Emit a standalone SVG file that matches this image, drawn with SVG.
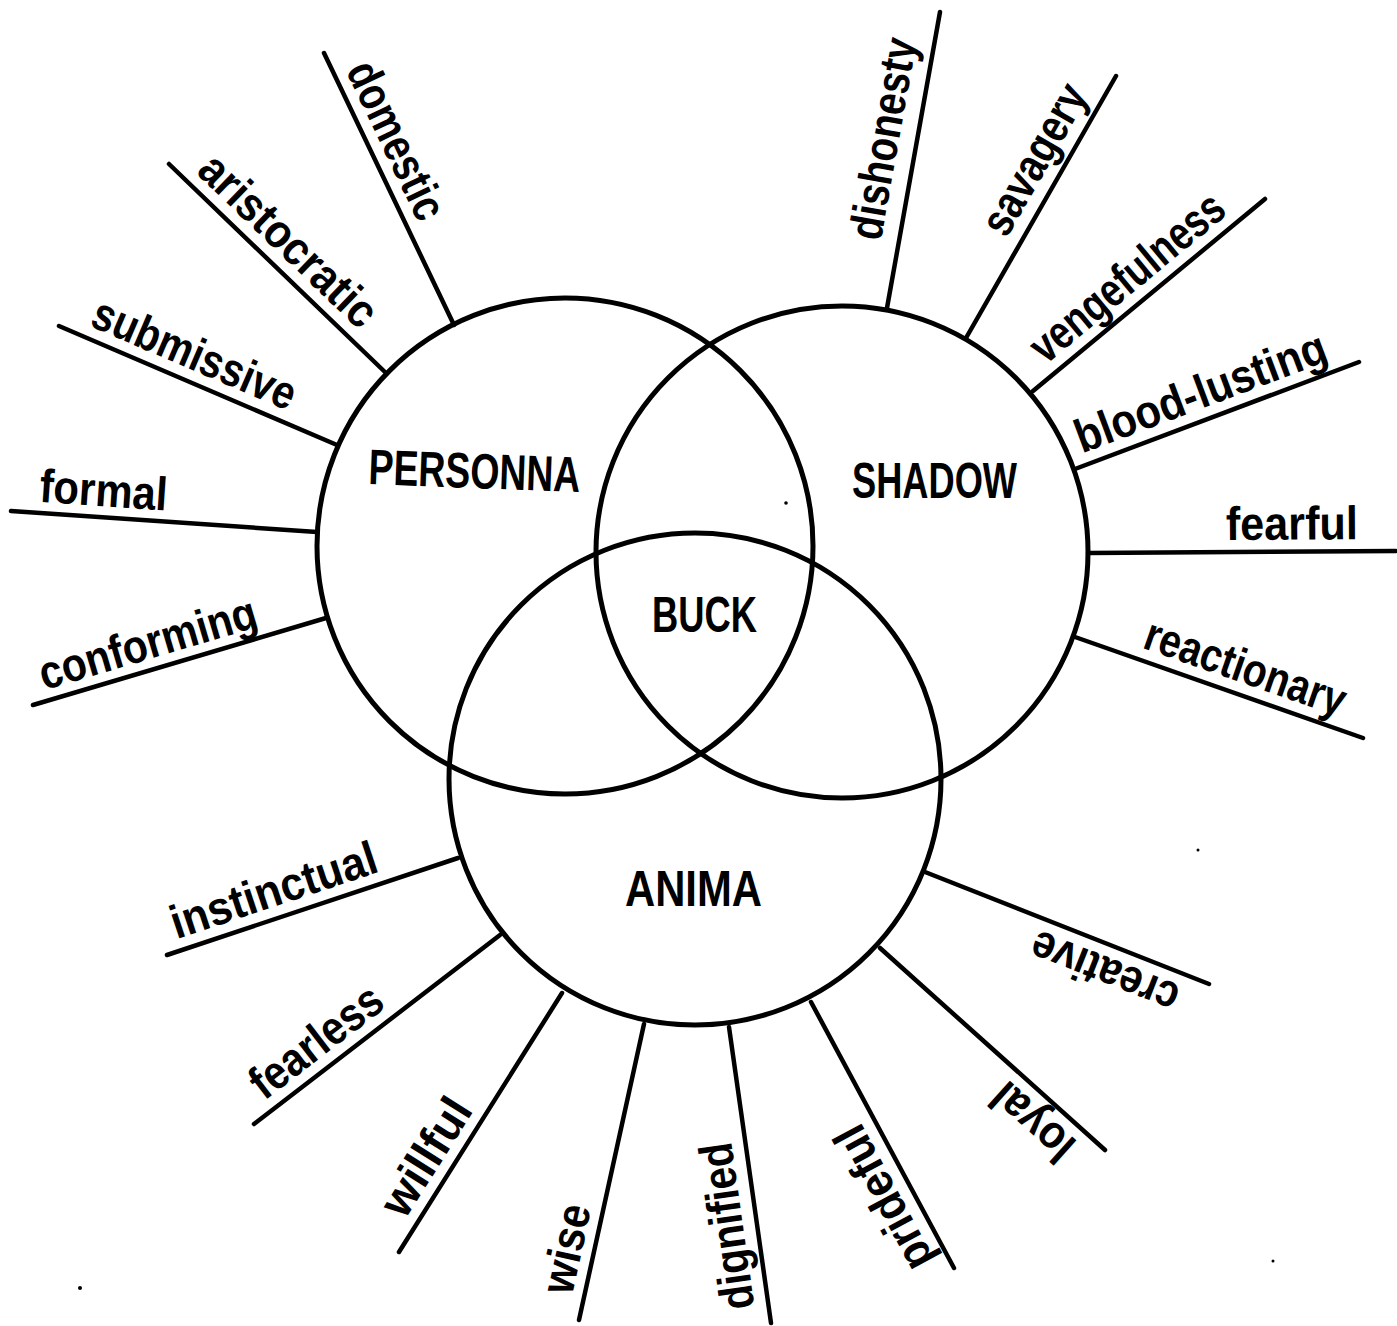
<svg xmlns="http://www.w3.org/2000/svg" width="1397" height="1326" viewBox="0 0 1397 1326">
<style>
.ring{fill:none;stroke:#000;stroke-width:5}
.spoke{stroke:#000;stroke-width:4.5;stroke-linecap:round;fill:none}
.lbl{font-family:"Liberation Sans",Arial,sans-serif;font-weight:bold;font-size:47px;fill:#000}
.ttl{font-family:"Liberation Sans",Arial,sans-serif;font-weight:bold;font-size:50px;fill:#000}
.speck{fill:#000}
</style>
<rect width="1397" height="1326" fill="#fff"/>
<g id="personna">
<circle class="ring" cx="565" cy="546" r="248"/>
<text class="ttl" transform="translate(368,484) rotate(2.2)" textLength="212" lengthAdjust="spacingAndGlyphs">PERSONNA</text>
</g>
<g id="shadow">
<circle class="ring" cx="842" cy="552" r="246"/>
<text class="ttl" x="852" y="498" textLength="165" lengthAdjust="spacingAndGlyphs">SHADOW</text>
</g>
<g id="anima">
<circle class="ring" cx="695" cy="779" r="246"/>
<text class="ttl" x="625" y="906" textLength="137" lengthAdjust="spacingAndGlyphs">ANIMA</text>
</g>
<g id="buck">
<text class="ttl" x="652" y="632" textLength="105" lengthAdjust="spacingAndGlyphs">BUCK</text>
</g>
<g id="connectors">
<line class="spoke" x1="324" y1="53" x2="454" y2="325"/>
<line class="spoke" x1="169" y1="164" x2="386" y2="373"/>
<line class="spoke" x1="59" y1="326" x2="337" y2="445"/>
<line class="spoke" x1="11" y1="511" x2="317" y2="532"/>
<line class="spoke" x1="33" y1="705" x2="326" y2="618"/>
<line class="spoke" x1="167" y1="955" x2="458" y2="858"/>
<line class="spoke" x1="254" y1="1124" x2="500" y2="935"/>
<line class="spoke" x1="399" y1="1252" x2="562" y2="993"/>
<line class="spoke" x1="579" y1="1320" x2="644" y2="1024"/>
<line class="spoke" x1="771" y1="1323" x2="729" y2="1027"/>
<line class="spoke" x1="954" y1="1268" x2="811" y2="1002"/>
<line class="spoke" x1="1105" y1="1150" x2="880" y2="948"/>
<line class="spoke" x1="1209" y1="984" x2="925" y2="872"/>
<line class="spoke" x1="1075" y1="637" x2="1363" y2="738"/>
<line class="spoke" x1="1088" y1="553" x2="1396" y2="551"/>
<line class="spoke" x1="1075" y1="469" x2="1359" y2="362"/>
<line class="spoke" x1="1033" y1="391" x2="1265" y2="199"/>
<line class="spoke" x1="966" y1="338" x2="1116" y2="76"/>
<line class="spoke" x1="887" y1="308" x2="940" y2="12"/>
</g>
<g id="lbl-domestic"><text class="lbl" transform="translate(324,53) rotate(64.5)" x="25" y="-12" textLength="170" lengthAdjust="spacingAndGlyphs">domestic</text></g>
<g id="lbl-aristocratic"><text class="lbl" transform="translate(169,164) rotate(43.9)" x="25" y="-12" textLength="228" lengthAdjust="spacingAndGlyphs">aristocratic</text></g>
<g id="lbl-submissive"><text class="lbl" transform="translate(59,326) rotate(23.2)" x="27" y="-12" textLength="217" lengthAdjust="spacingAndGlyphs">submissive</text></g>
<g id="lbl-formal"><text class="lbl" transform="translate(11,511) rotate(3.9)" x="27" y="-11" textLength="128" lengthAdjust="spacingAndGlyphs">formal</text></g>
<g id="lbl-conforming"><text class="lbl" transform="translate(33,705) rotate(-16.5)" x="15" y="-11" textLength="225" lengthAdjust="spacingAndGlyphs">conforming</text></g>
<g id="lbl-instinctual"><text class="lbl" transform="translate(167,955) rotate(-18.4)" x="14" y="-12" textLength="215" lengthAdjust="spacingAndGlyphs">instinctual</text></g>
<g id="lbl-fearless"><text class="lbl" transform="translate(254,1124) rotate(-37.5)" x="22" y="-12" textLength="155" lengthAdjust="spacingAndGlyphs">fearless</text></g>
<g id="lbl-willful"><text class="lbl" transform="translate(399,1252) rotate(-57.8)" x="30" y="-12" textLength="130" lengthAdjust="spacingAndGlyphs">willful</text></g>
<g id="lbl-wise"><text class="lbl" transform="translate(579,1320) rotate(-77.6)" x="22" y="-12" textLength="90" lengthAdjust="spacingAndGlyphs">wise</text></g>
<g id="lbl-dignified"><text class="lbl" transform="translate(771,1323) rotate(-98.1)" x="18" y="-14" textLength="168" lengthAdjust="spacingAndGlyphs">dignified</text></g>
<g id="lbl-prideful"><text class="lbl" transform="translate(954,1268) rotate(-118.3)" x="16" y="-13" textLength="158" lengthAdjust="spacingAndGlyphs">prideful</text></g>
<g id="lbl-loyal"><text class="lbl" transform="translate(1105,1150) rotate(-138.1)" x="25" y="-12" textLength="95" lengthAdjust="spacingAndGlyphs">loyal</text></g>
<g id="lbl-creative"><text class="lbl" transform="translate(1209,984) rotate(-158.5)" x="24" y="-12" textLength="155" lengthAdjust="spacingAndGlyphs">creative</text></g>
<g id="lbl-reactionary"><text class="lbl" transform="translate(1075,637) rotate(19.3)" x="66" y="-12" textLength="210" lengthAdjust="spacingAndGlyphs">reactionary</text></g>
<g id="lbl-fearful"><text class="lbl" transform="translate(1088,553) rotate(-0.4)" x="138" y="-12" textLength="132" lengthAdjust="spacingAndGlyphs">fearful</text></g>
<g id="lbl-blood-lusting"><text class="lbl" transform="translate(1075,469) rotate(-20.6)" x="12" y="-12" textLength="265" lengthAdjust="spacingAndGlyphs">blood-lusting</text></g>
<g id="lbl-vengefulness"><text class="lbl" transform="translate(1033,391) rotate(-39.6)" x="26" y="-12" textLength="238" lengthAdjust="spacingAndGlyphs">vengefulness</text></g>
<g id="lbl-savagery"><text class="lbl" transform="translate(966,338) rotate(-60.2)" x="106" y="-14" textLength="166" lengthAdjust="spacingAndGlyphs">savagery</text></g>
<g id="lbl-dishonesty"><text class="lbl" transform="translate(887,308) rotate(-79.8) scale(0.823,1)" x="78" y="-18">dishonesty</text></g>
<g id="specks">
<circle class="speck" cx="786" cy="503" r="1.8"/>
<circle class="speck" cx="1198" cy="850" r="1.5"/>
<circle class="speck" cx="1273" cy="1261" r="1.5"/>
<circle class="speck" cx="80" cy="1288" r="2"/>
</g>
</svg>
